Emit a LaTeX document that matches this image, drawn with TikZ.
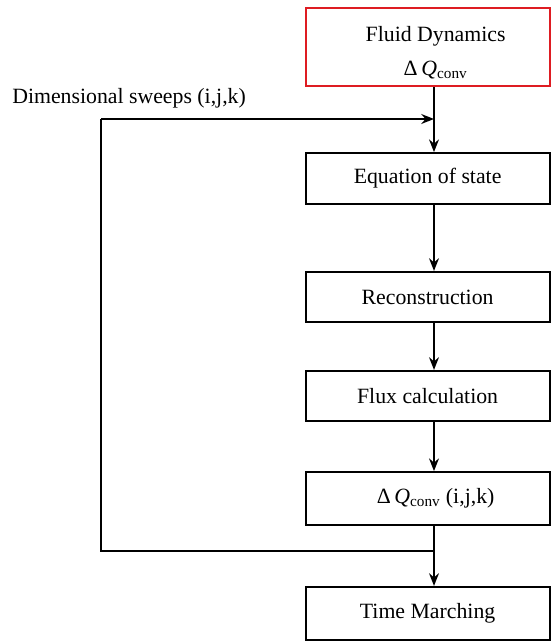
\documentclass[tikz,border=0pt]{standalone}
\usepackage{fontspec}
\setmainfont{Liberation Serif}
\usetikzlibrary{positioning, arrows.meta}
\definecolor{boxred}{RGB}{222,28,34}
\begin{document}
\fontsize{15.5}{19}\selectfont
\begin{tikzpicture}[stage/.style={draw, line width=1.5pt, minimum width=6.1cm, inner sep=0pt},
flow/.style={line width=1.6pt, -{Stealth[length=9pt,width=7pt]}},
line/.style={line width=1.6pt}]
\useasboundingbox (0,0) rectangle (13.775,16.075);
%
\node[stage, draw=boxred, minimum height=1.95cm, align=center] (fluid) at (10.69,14.9)
{\rule{0pt}{19pt}\hspace*{0.4cm}Fluid Dynamics\\[5pt] \hspace*{0.4cm}Δ\,\textit{Q}\textsubscript{conv}};
\node[stage, minimum height=1.27cm] (eos) at (10.69,11.61) {Equation of state};
\node[stage, minimum height=1.25cm] (recon) at (10.69,8.65) {Reconstruction};
\node[stage, minimum height=1.25cm] (flux) at (10.69,6.175) {Flux calculation};
\node[stage, minimum height=1.32cm] (dq) at (10.69,3.61)
{\hspace*{0.4cm}Δ\,\textit{Q}\textsubscript{conv} (i,j,k)};
\node[stage, minimum height=1.32cm] (time) at (10.69,0.74) {Time Marching};
%
\node[anchor=west, inner sep=0pt] (sweeps) at (0.3,13.62) {Dimensional sweeps (i,j,k)};
%
\coordinate (col) at (10.85,0);
\coordinate (split) at (10.85,13.1);
\coordinate (merge) at (10.85,2.3);
\coordinate (lowleft) at (2.525,2.3);
\coordinate (upleft) at (2.525,13.1);
%
\draw[flow] (fluid.south -| col) -- (eos.north -| col);
\draw[flow] (eos.south -| col) -- (recon.north -| col);
\draw[flow] (recon.south -| col) -- (flux.north -| col);
\draw[flow] (flux.south -| col) -- (dq.north -| col);
\draw[flow] (dq.south -| col) -- (time.north -| col);
\draw[line] (merge) -- (lowleft) -- (upleft);
\draw[flow] (upleft) -- (split);
\end{tikzpicture}
\end{document}
